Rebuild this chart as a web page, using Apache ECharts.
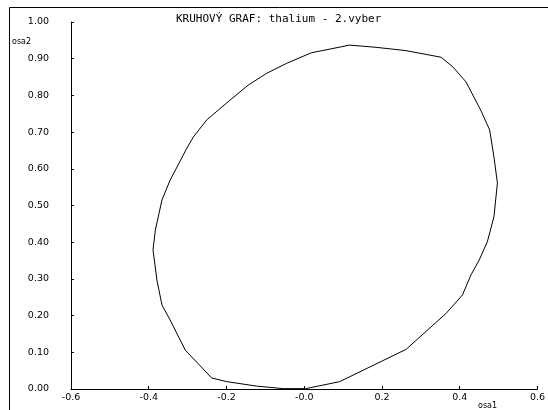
<!DOCTYPE html>
<html>
<head>
<meta charset="utf-8">
<script src="https://cdn.jsdelivr.net/npm/echarts@6/dist/echarts.min.js"></script>
<style>html,body{margin:0;padding:0;background:#fff}#c{width:548px;height:410px}</style>
</head>
<body>
<div id="c"></div>
<script>
var titleText = 'KRUHOVÝ GRAF: thalium - 2.vyber';
var xName = 'osa1';
var yName = 'osa2';
var xTickLabels = ['-0.6','-0.4','-0.2','-0.0','0.2','0.4','0.6'];
var yTickLabels = ['0.00','0.10','0.20','0.30','0.40','0.50','0.60','0.70','0.80','0.90','1.00'];
var osa1 = [0.004, 0.091, 0.262, 0.365, 0.407, 0.429, 0.450, 0.471, 0.488, 0.497, 0.488, 0.477, 0.454, 0.416, 0.382, 0.352, 0.262, 0.185, 0.117, 0.018, -0.046, -0.097, -0.144, -0.191, -0.251, -0.285, -0.302, -0.345, -0.366, -0.383, -0.389, -0.379, -0.366, -0.345, -0.306, -0.238, -0.199, -0.123, -0.054];
var osa2 = [0.001, 0.020, 0.108, 0.206, 0.256, 0.311, 0.351, 0.401, 0.469, 0.561, 0.633, 0.706, 0.760, 0.837, 0.878, 0.904, 0.922, 0.931, 0.937, 0.916, 0.887, 0.860, 0.828, 0.787, 0.733, 0.687, 0.656, 0.569, 0.515, 0.433, 0.379, 0.297, 0.229, 0.188, 0.106, 0.030, 0.020, 0.008, 0.001];

var pts = osa1.map(function (x, i) { return [x, osa2[i]]; });
pts.push(pts[0]);

var chart = echarts.init(document.getElementById('c'), null, {renderer: 'canvas'});
var tickFont = {fontFamily: 'DejaVu Sans', fontSize: 9.5, color: '#000'};
chart.setOption({
  animation: false,
  backgroundColor: '#fff',
  title: {
    text: titleText, left: 171, top: 9,
    textStyle: {fontFamily: 'DejaVu Sans Mono', fontSize: 11, fontWeight: 'normal', color: '#000'}
  },
  grid: {left: 71, right: 9, top: 22, bottom: 21, containLabel: false},
  xAxis: {
    type: 'value', min: -0.6, max: 0.6, interval: 0.2,
    axisLine: {show: true, onZero: false, lineStyle: {color: '#000', width: 1}},
    axisTick: {show: true, inside: true, length: 3, lineStyle: {color: '#000'}},
    splitLine: {show: false},
    axisLabel: Object.assign({margin: 4, formatter: function (v) {
      var i = Math.round((v + 0.6) / 0.2); return xTickLabels[i];
    }}, tickFont)
  },
  yAxis: {
    type: 'value', min: 0, max: 1, interval: 0.1,
    axisLine: {show: true, onZero: false, lineStyle: {color: '#000', width: 1}},
    axisTick: {show: true, inside: true, length: 3, lineStyle: {color: '#000'}},
    splitLine: {show: false},
    axisLabel: Object.assign({margin: 22, formatter: function (v) {
      var i = Math.round(v / 0.1); return yTickLabels[i];
    }}, tickFont)
  },
  graphic: [
    {type: 'rect', shape: {x: 9.5, y: 7.5, width: 700, height: 600}, style: {fill: 'none', stroke: '#000', lineWidth: 1}, silent: true},
    {type: 'text', left: 12, top: 38, style: {text: yName, font: '8px "DejaVu Sans"', fill: '#000'}},
    {type: 'text', left: 478, top: 402, style: {text: xName, font: '8px "DejaVu Sans"', fill: '#000'}}
  ],
  series: [{
    type: 'line', data: pts, showSymbol: false, smooth: false,
    lineStyle: {color: '#000', width: 1}
  }]
});
</script>
</body>
</html>
